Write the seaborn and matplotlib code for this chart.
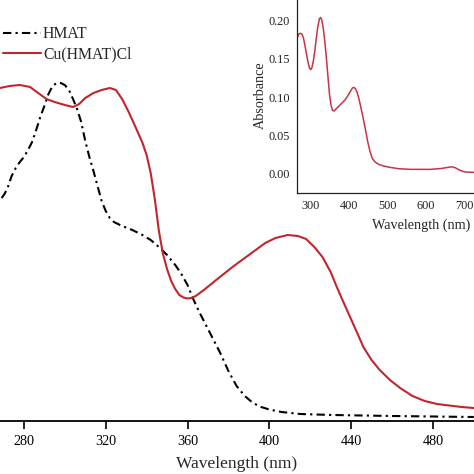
import matplotlib
matplotlib.use("Agg")
import matplotlib.pyplot as plt
import seaborn as sns
import pandas as pd
from matplotlib.ticker import MultipleLocator

# ---------------- data ----------------
# Main panel: HMAT (arbitrary absorbance units)
hmat_wl = [269.1, 270.5, 272, 274, 276, 278, 280, 282, 284, 286,
           288, 290, 292, 294, 296, 298, 300, 302, 304, 306,
           308, 310, 312, 314, 316, 318, 320, 322, 324, 328,
           333, 338, 342, 346, 350, 354, 357, 360, 363, 366,
           369.5, 373, 376, 380, 384, 388, 392, 396, 400, 406,
           415, 431, 460, 500]
hmat_abs = [2.23, 2.27, 2.33, 2.45, 2.53, 2.59, 2.64, 2.71, 2.79, 2.91,
            3.04, 3.15, 3.27, 3.35, 3.38, 3.38, 3.36, 3.31, 3.22, 3.12,
            2.99, 2.80, 2.64, 2.50, 2.35, 2.20, 2.10, 2.03, 1.99, 1.95,
            1.91, 1.86, 1.81, 1.74, 1.66, 1.56, 1.47, 1.36, 1.21, 1.08,
            0.94, 0.80, 0.68, 0.50, 0.35, 0.25, 0.18, 0.14, 0.115, 0.09,
            0.07, 0.06, 0.05, 0.04]

# Main panel: Cu(HMAT)Cl
cu_wl = [268.3, 273, 278, 283, 287, 291, 295, 300, 304, 307,
         310, 314, 318, 322, 325, 328, 331, 335, 338, 340,
         342, 344, 346, 348, 350, 352, 354, 356, 358, 360,
         362, 364, 368, 374, 382, 390, 398, 403, 409, 414,
         418, 422, 426, 430, 433, 436, 439.5, 443, 446, 450,
         454, 459, 464, 470, 476, 482, 488, 494, 500]
cu_abs = [3.33, 3.35, 3.36, 3.34, 3.28, 3.22, 3.19, 3.16, 3.14, 3.17,
          3.23, 3.28, 3.31, 3.33, 3.31, 3.22, 3.10, 2.92, 2.78, 2.66,
          2.48, 2.22, 1.90, 1.67, 1.52, 1.40, 1.32, 1.26, 1.235, 1.225,
          1.23, 1.25, 1.31, 1.41, 1.54, 1.66, 1.78, 1.83, 1.86, 1.85,
          1.82, 1.74, 1.64, 1.49, 1.34, 1.20, 1.04, 0.88, 0.74, 0.61,
          0.51, 0.41, 0.33, 0.25, 0.20, 0.17, 0.155, 0.14, 0.13]

# Inset: Cu(HMAT)Cl full spectrum
ins_wl = [262.7, 265, 268, 272, 276, 280, 284, 288, 292, 296,
          299, 302, 306, 310, 314, 318, 322, 325, 328, 332,
          336, 340, 344, 348, 352, 356, 360, 366, 372, 380,
          388, 395, 402, 408, 412, 416, 420, 425, 430, 436,
          442, 448, 454, 460, 468, 478, 490, 506, 530, 560,
          611, 640, 660, 668, 676, 685, 695, 705, 725, 800, 900]
ins_abs = [0.1744, 0.179, 0.1825, 0.1835, 0.1825, 0.178, 0.168, 0.157, 0.146, 0.138,
           0.136, 0.138, 0.147, 0.161, 0.178, 0.193, 0.2025, 0.2042, 0.201, 0.190,
           0.173, 0.152, 0.128, 0.105, 0.090, 0.083, 0.0819, 0.085, 0.088, 0.092,
           0.096, 0.101, 0.107, 0.112, 0.1128, 0.111, 0.107, 0.098, 0.087, 0.073,
           0.058, 0.042, 0.029, 0.020, 0.015, 0.012, 0.010, 0.0083, 0.0065, 0.0057,
           0.0057, 0.0068, 0.0085, 0.0090, 0.0080, 0.0055, 0.0032, 0.0022, 0.0018, 0.0015, 0.0015]

main_xticks = [280, 320, 360, 400, 440, 480]
inset_xticks = [300, 400, 500, 600, 700, 800, 900]
inset_yticks = [0.00, 0.05, 0.10, 0.15, 0.20]

labels = ["HMAT", "Cu(HMAT)Cl"]

# ---------------- style ----------------
sns.set_style("white")
plt.rcParams["font.family"] = ["Liberation Serif", "DejaVu Serif"]
plt.rcParams["lines.scale_dashes"] = False
plt.rcParams["axes.unicode_minus"] = False

W = H = 474
fig = plt.figure(figsize=(4.74, 4.74), dpi=100)

RED = "#c2262c"
RED_IN = "#c83444"

# ---------------- main axes ----------------
ax = fig.add_axes([0.0, 1 - 421 / H, 1.0, 421 / H])
df_h = pd.DataFrame({"wl": hmat_wl, "A": hmat_abs})
df_c = pd.DataFrame({"wl": cu_wl, "A": cu_abs})
sns.lineplot(data=df_h, x="wl", y="A", ax=ax, color="black", lw=1.5,
             linestyle=(0, (6.0, 3.0, 1.6, 3.0)), label=labels[0], sort=False)
sns.lineplot(data=df_c, x="wl", y="A", ax=ax, color=RED, lw=1.5,
             label=labels[1], sort=False)
ax.set_xlim(268.3, 500.1)
ax.set_ylim(0, 4.21)
ax.set_xticks(main_xticks)
ax.set_xticklabels([str(t) for t in main_xticks])
ax.set_yticks([])
for s in ["left", "top", "right"]:
    ax.spines[s].set_visible(False)
ax.spines["bottom"].set_linewidth(1.3)
ax.spines["bottom"].set_color("black")
ax.tick_params(axis="x", direction="out", length=6, width=1.2, pad=4,
               labelsize=10.2, colors="black", bottom=True)
ax.set_xlabel("Wavelength (nm)", fontsize=12.5, labelpad=6)
ax.set_ylabel("")
ax.legend(loc="upper left", bbox_to_anchor=(3 / W, 1 - 26 / H),
          bbox_transform=fig.transFigure, frameon=False, fontsize=11.3,
          handlelength=2.4, handletextpad=0.15, labelspacing=0.28,
          borderpad=0, borderaxespad=0)

# ---------------- inset ----------------
ix0, iy_bottom = 296.7, 192.7
iw = 248.6
ih = 194.7
ins = fig.add_axes([ix0 / W, 1 - iy_bottom / H, iw / W, ih / H])
df_i = pd.DataFrame({"wl": ins_wl, "A": ins_abs})
sns.lineplot(data=df_i, x="wl", y="A", ax=ins, color=RED_IN, lw=1.1, sort=False)
ins.set_xlim(262.6, 911.7)
ins.set_ylim(-0.0248, 0.2296)
ins.set_xticks(inset_xticks)
ins.set_xticklabels([str(t) for t in inset_xticks])
ins.set_yticks(inset_yticks)
ins.set_yticklabels([f"{t:.2f}" for t in inset_yticks])
ins.xaxis.set_minor_locator(MultipleLocator(50))
ins.yaxis.set_minor_locator(MultipleLocator(0.025))
for s in ins.spines.values():
    s.set_linewidth(0.9)
    s.set_color("#222222")
ins.tick_params(which="major", direction="out", length=2.5, width=0.9,
                labelsize=8.8, pad=2.5, colors="#222222")
ins.tick_params(which="minor", direction="out", length=1.5, width=0.8,
                colors="#222222")
ins.set_xlabel("Wavelength (nm)", fontsize=10.2, labelpad=5)
ins.set_ylabel("Absorbance", fontsize=10.2, labelpad=1)
ins.patch.set_alpha(0)

fig.savefig("out.png", dpi=100)
